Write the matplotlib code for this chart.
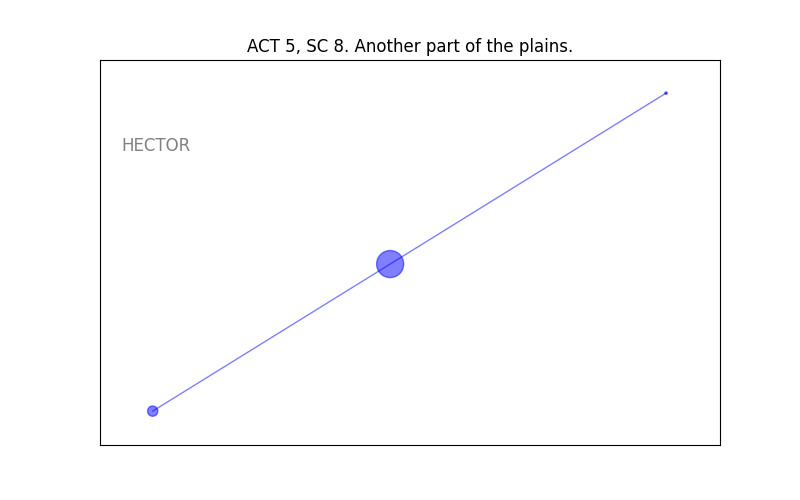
import matplotlib
matplotlib.use("Agg")
import matplotlib.pyplot as plt

xs = [0.085, 0.468, 0.913]
ys = [0.088, 0.470, 0.914]
sizes = [55, 380, 3]
title = "ACT 5, SC 8. Another part of the plains."
label = "HECTOR"

fig, ax = plt.subplots(figsize=(8, 5), dpi=100)
ax.plot(xs, ys, color="blue", alpha=0.5, lw=1)
ax.scatter(xs, ys, s=sizes, color="blue", alpha=0.5)
ax.set_xlim(0, 1)
ax.set_ylim(0, 1)
ax.set_xticks([])
ax.set_yticks([])
ax.text(0.034, 0.777, label, transform=ax.transAxes, color="gray", fontsize=12, va="center")
ax.set_title(title)
fig.savefig("out.png")
